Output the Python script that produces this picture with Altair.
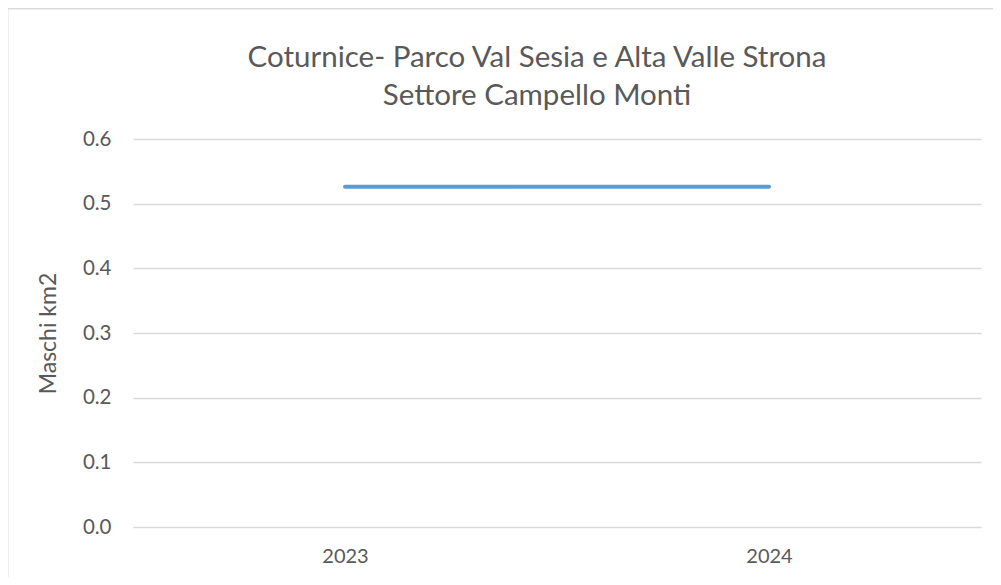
import altair as alt
import pandas as pd

years = ["2023", "2024"]
maschi_km2 = [0.526, 0.526]

df = pd.DataFrame({"anno": years, "valore": maschi_km2})

FONT = "Lato"
TXT = "#595959"
GRID = "#d9d9d9"

W, H = 848, 388
PAD = {"left": 125, "top": 131, "right": 12, "bottom": 50}

line = alt.Chart(df).mark_line(color="#5b9bd5", strokeWidth=4, strokeCap="round").encode(
    x=alt.X("anno:O", sort=years,
            axis=alt.Axis(title=None, labelAngle=0, ticks=False, domain=True,
                          domainColor=GRID, labelFontSize=20, labelColor=TXT,
                          labelFont=FONT, labelPadding=19)),
    y=alt.Y("valore:Q", scale=alt.Scale(domain=[0, 0.6], nice=False),
            axis=alt.Axis(title="Maschi km2", values=[0, 0.1, 0.2, 0.3, 0.4, 0.5, 0.6],
                          format=".1f", ticks=False, domain=False, grid=True,
                          gridColor=GRID, gridWidth=1.3, labelFontSize=20.5,
                          labelColor=TXT, labelFont=FONT, labelPadding=22,
                          titleFontSize=23, titleColor=TXT, titleFont=FONT,
                          titleFontWeight="normal", titlePadding=22)),
)

frame = alt.Chart(df).mark_rect(fill=None, stroke=GRID, strokeWidth=1.5, clip=False).encode(
    x=alt.value(-125.5), x2=alt.value(3000), y=alt.value(-130.5), y2=alt.value(3000)
)

chart = alt.layer(frame, line).properties(
    width=W, height=H,
    autosize=alt.AutoSizeParams(type="none"),
    padding=PAD,
    title=alt.TitleParams(
        text=["Coturnice- Parco Val Sesia e Alta Valle Strona", "Settore Campello Monti"],
        font=FONT, fontSize=29.5, fontWeight="normal", color=TXT,
        anchor="middle", dx=-20, lineHeight=38, offset=-104,
    ),
).configure(background="white").configure_view(stroke=None)

chart.save("out.html", embed_options={"renderer": "svg", "actions": False})
